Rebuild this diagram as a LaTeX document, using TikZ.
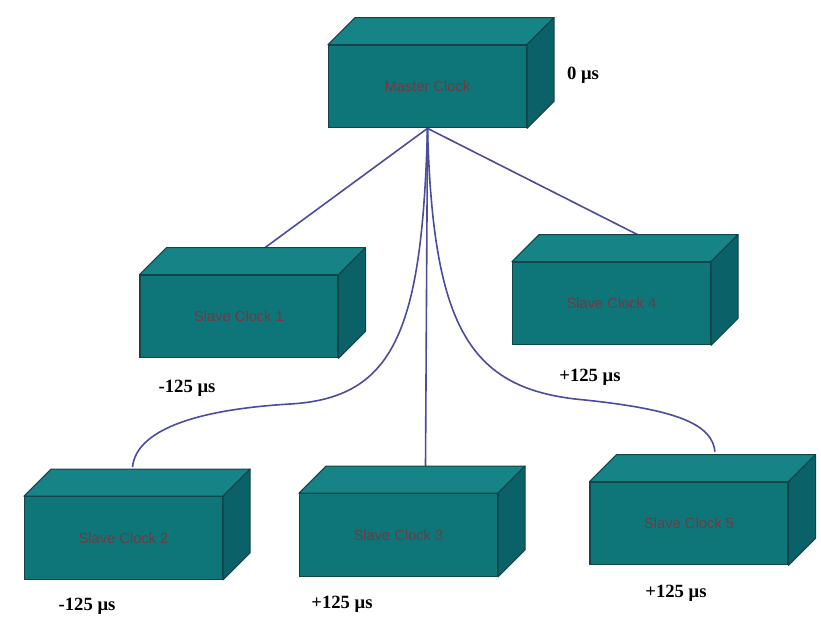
\documentclass[tikz,border=0pt]{standalone}
\usepackage{fontspec}
\setmainfont{Liberation Serif}
\newfontfamily\boxfont{Liberation Sans}
\usetikzlibrary{calc,backgrounds}

\definecolor{tealfront}{RGB}{14,118,121}
\definecolor{tealtop}{RGB}{22,132,134}
\definecolor{tealside}{RGB}{10,98,104}
\definecolor{tealedge}{RGB}{18,68,74}
\definecolor{clocktext}{RGB}{112,58,66}
\definecolor{wire}{RGB}{76,76,156}

\tikzset{
  clockbox/.style={draw=tealedge, line width=0.8pt, fill=tealfront,
    minimum width=148.5pt, minimum height=62pt, inner sep=0pt,
    font=\boxfont\fontsize{11}{13}\selectfont, text=clocktext},
  topface/.style={draw=tealedge, line width=0.8pt, fill=tealtop, line join=round},
  sideface/.style={draw=tealedge, line width=0.8pt, fill=tealside, line join=round},
  link/.style={draw=wire, line width=1.2pt},
  delay/.style={font=\bfseries\fontsize{14}{16}\selectfont, text=black}
}

% top and right faces of a clock cuboid, depth 27 units up and to the right
\newcommand\cuboidfaces[1]{%
  \path[topface] (#1.north west) -- ++(27,-27) -- ([shift={(27,-27)}]#1.north east)
    -- (#1.north east) -- cycle;
  \path[sideface] (#1.north east) -- ++(27,-27) -- ([shift={(27,-27)}]#1.south east)
    -- (#1.south east) -- cycle;
}

\begin{document}
\begin{tikzpicture}[x=0.75pt, y=-0.75pt]
  \useasboundingbox (0,0) rectangle (821,621);

  % clocks (front faces)
  \node[clockbox] (m)  at (427.5,86.5) {Master Clock};
  \node[clockbox] (s1) at (239,316.5)  {Slave Clock 1};
  \node[clockbox] (s4) at (611.5,303.5) {Slave Clock 4};
  \node[clockbox] (s2) at (123.5,538)  {Slave Clock 2};
  \node[clockbox] (s3) at (398.5,535)  {Slave Clock 3};
  \node[clockbox] (s5) at (689,523.5)  {Slave Clock 5};

  \cuboidfaces{m}
  \cuboidfaces{s1}
  \cuboidfaces{s4}
  \cuboidfaces{s2}
  \cuboidfaces{s3}
  \cuboidfaces{s5}

  % attachment points on the back edges of the top faces
  \coordinate (hub) at (m.south);
  \coordinate (t1) at ([shift={(26,-27)}]s1.north);
  \coordinate (t4) at ([shift={(26,-27)}]s4.north);
  \coordinate (t2) at ([shift={(9,-29)}]s2.north);
  \coordinate (t3) at ([shift={(27,-27)}]s3.north);
  \coordinate (t5) at ([shift={(26,-30)}]s5.north);

  \begin{scope}[on background layer]
    \fill[white] (0,0) rectangle (821,621);
    \draw[link] (hub) -- (t1);
    \draw[link] (hub) -- (t4);
    \draw[link] (hub) -- (t3);
    \draw[link] (hub) .. controls (422,330) and (395,398) .. (290,404)
                      .. controls (190,410) and (136,432) .. (t2);
    \draw[link] (hub) .. controls (433,330) and (470,390) .. (585,400)
                      .. controls (680,410) and (712,425) .. (t5);
  \end{scope}

  % delay labels
  \node[delay] (d0) at (583,75)  {0 μs};
  \node[delay] (d1) at (187,388) {-125 μs};
  \node[delay] (d4) at (590,377) {+125 μs};
  \node[delay] (d2) at (87,606)  {-125 μs};
  \node[delay] (d3) at (342,604) {+125 μs};
  \node[delay] (d5) at (676,593) {+125 μs};
\end{tikzpicture}
\end{document}
